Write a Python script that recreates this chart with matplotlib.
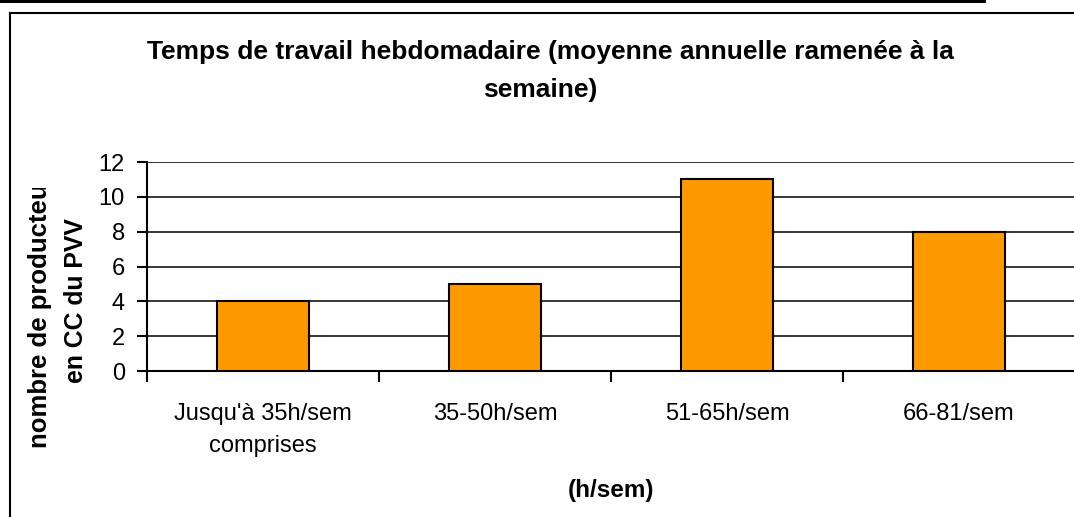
import matplotlib
matplotlib.use("Agg")
import matplotlib.pyplot as plt
from matplotlib.lines import Line2D
from matplotlib.patches import Rectangle
from matplotlib.transforms import Bbox

categories = ["Jusqu'à 35h/sem\ncomprises", "35-50h/sem", "51-65h/sem", "66-81/sem"]
values = [4, 5, 11, 8]
yticks = [0, 2, 4, 6, 8, 10, 12]
title_line1 = "Temps de travail hebdomadaire (moyenne annuelle ramenée à la"
title_line2 = "semaine)"
ylabel_line1 = "nombre de producteurs"
ylabel_line2 = "en CC du PVV"
xlabel = "(h/sem)"

plt.rcParams['font.family'] = ['Liberation Sans', 'DejaVu Sans']

W, H = 1074, 517
fig = plt.figure(figsize=(W / 100, H / 100), dpi=100)

# axes placement in pixels
x0, x1 = 147, 1075
y_top, y_bot = 162, 371
ax = fig.add_axes([x0 / W, (H - y_bot) / H, (x1 - x0) / W, (y_bot - y_top) / H])

xs = list(range(len(categories)))
ax.bar(xs, values, width=0.4, color="#FF9900", edgecolor="black", linewidth=1.5, zorder=3)

ax.set_xlim(-0.5, len(categories) - 0.5)
ax.set_ylim(0, 12)
ax.set_yticks(yticks)
ax.set_yticklabels([str(v) for v in yticks], fontsize=17)
ax.yaxis.grid(True, color="black", linewidth=1.1, zorder=0)
ax.set_axisbelow(True)

# major x ticks at category boundaries (no labels), minor ticks for labels
ax.set_xticks([i - 0.5 for i in xs])
ax.set_xticklabels([])
ax.set_xticks(xs, minor=True)
ax.set_xticklabels(categories, minor=True, fontsize=17, linespacing=1.6)
ax.tick_params(axis='x', which='major', direction='out', length=8, width=1.5, color='black')
ax.tick_params(axis='x', which='minor', length=0, pad=23)
ax.tick_params(axis='y', direction='out', length=7, width=1.5, color='black', pad=9)

for s in ['top', 'right']:
    ax.spines[s].set_visible(False)
ax.spines['left'].set_linewidth(1.5)
ax.spines['bottom'].set_linewidth(1.5)

# title
fig.text(550 / W, (H - 59) / H, title_line1, ha='center', va='baseline',
         fontsize=19, fontweight='bold')
fig.text(540 / W, (H - 97) / H, title_line2, ha='center', va='baseline',
         fontsize=19, fontweight='bold')

# x label
fig.text(611 / W, (H - 490) / H, xlabel, ha='center', va='center',
         fontsize=17.5, fontweight='bold')

# y label (first line clipped like in the original)
clip = Bbox.from_extents(0, 0, W, H - 188)
t1 = fig.text(47 / W, (H - 448) / H, ylabel_line1, rotation=90, rotation_mode='anchor',
              ha='left', va='baseline', fontsize=18.5, fontweight='bold')
t1.set_clip_box(clip)
t1.set_clip_on(True)
fig.text(83 / W, (H - 383) / H, ylabel_line2, rotation=90, rotation_mode='anchor',
         ha='left', va='baseline', fontsize=17.8, fontweight='bold')

# outer frame
fig.add_artist(Line2D([10 / W, 10 / W], [0, (H - 13) / H], transform=fig.transFigure,
                      color='black', linewidth=1.5))
fig.add_artist(Line2D([10 / W, 1], [(H - 13) / H, (H - 13) / H], transform=fig.transFigure,
                      color='black', linewidth=1.5))
fig.add_artist(Rectangle((0, (H - 3) / H), 986 / W, 3 / H, transform=fig.transFigure,
                         facecolor='black', edgecolor='none'))

fig.savefig("out.png", dpi=100)
